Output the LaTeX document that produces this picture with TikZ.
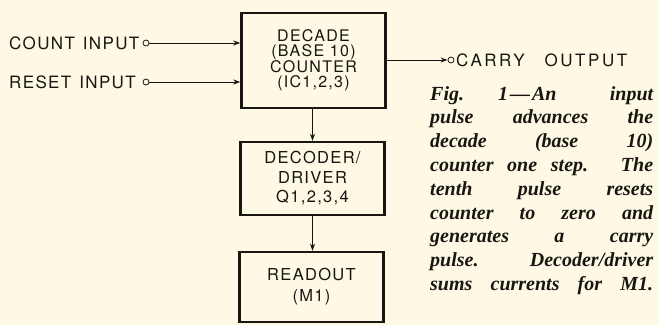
\documentclass[tikz,border=0pt]{standalone}
\usepackage{fontspec}
\usetikzlibrary{arrows.meta}
\newfontfamily\lblfont[LetterSpace=8]{TeX Gyre Heros}
\newfontfamily\widelblfont[LetterSpace=15]{TeX Gyre Heros}
\newfontfamily\capfont{Liberation Serif}
\definecolor{paper}{RGB}{253,249,228}
\definecolor{ink}{RGB}{25,22,18}
\tikzset{
  blk/.style={draw=ink, line width=2.4pt, minimum width=144pt, align=center, inner sep=0pt},
  lbl/.style={font=\lblfont\fontsize{17pt}{17pt}\selectfont, text=ink, inner sep=0pt},
  term/.style={circle, draw=ink, line width=0.8pt, minimum size=6pt, inner sep=0pt},
  conn/.style={draw=ink, line width=1pt, -{Stealth[length=7pt,width=5pt]}}
}
\newcommand{\capline}[1]{\makebox[223pt][s]{#1}\\}
\begin{document}
\begin{tikzpicture}[x=1pt,y=-1pt]
\fill[paper] (0,0) rectangle (659,325);
\useasboundingbox (0,0) rectangle (659,325);
% blocks
\node[blk, lbl, minimum height=95pt, font=\lblfont\fontsize{16pt}{14.8pt}\selectfont] (cnt) at (313.5,60.5) {DECADE\\(BASE 10)\\COUNTER\\(IC1,2,3)};
\node[blk, lbl, minimum height=73pt, font=\lblfont\fontsize{16.5pt}{19.5pt}\selectfont] (dec) at (312.5,178.5) {DECODER/\\DRIVER\\Q1,2,3,4};
\node[blk, lbl, minimum height=70pt, font=\lblfont\fontsize{16.5pt}{21pt}\selectfont] (rdo) at (311.5,287) {READOUT\\(M1)};
% inputs
\node[lbl, anchor=west] (cinl) at (9,43) {COUNT\hspace{8pt}INPUT};
\node[term] (cin) at (146,43) {};
\node[lbl, anchor=west] (rinl) at (9,82) {RESET\hspace{8pt}INPUT};
\node[term] (rin) at (146,82) {};
\draw[conn] (cin.east) -- (cin.east -| cnt.west);
\draw[conn] (rin.east) -- (rin.east -| cnt.west);
% output
\node[term] (cout) at (451,60) {};
\node[lbl, anchor=west, font=\widelblfont\fontsize{17pt}{17pt}\selectfont] (coutl) at (456,60) {CARRY\hspace{20pt}OUTPUT};
\draw[conn] (cout.west -| cnt.east) -- (cout.west);
% vertical
\draw[conn] (cnt.south -| 312.5,0) -- (dec.north);
\draw[conn] (dec.south) -- (rdo.north -| dec.south);
% caption
\node[anchor=north west, inner sep=0pt, text=ink, align=left,
      font=\capfont\bfseries\itshape\fontsize{20pt}{23.8pt}\selectfont] (cap) at (430,86) {%
\makebox[223pt][l]{Fig.\hspace{34pt}1\hspace{2pt}—\hspace{2pt}An\hfill input}\\
\capline{pulse advances the}
\capline{decade (base 10)}
\capline{counter one step. The}
\capline{tenth pulse resets}
\capline{counter to zero and}
\capline{generates a carry}
\capline{pulse. Decoder/driver}
\makebox[223pt][s]{sums currents for M1.}};
\end{tikzpicture}
\end{document}
